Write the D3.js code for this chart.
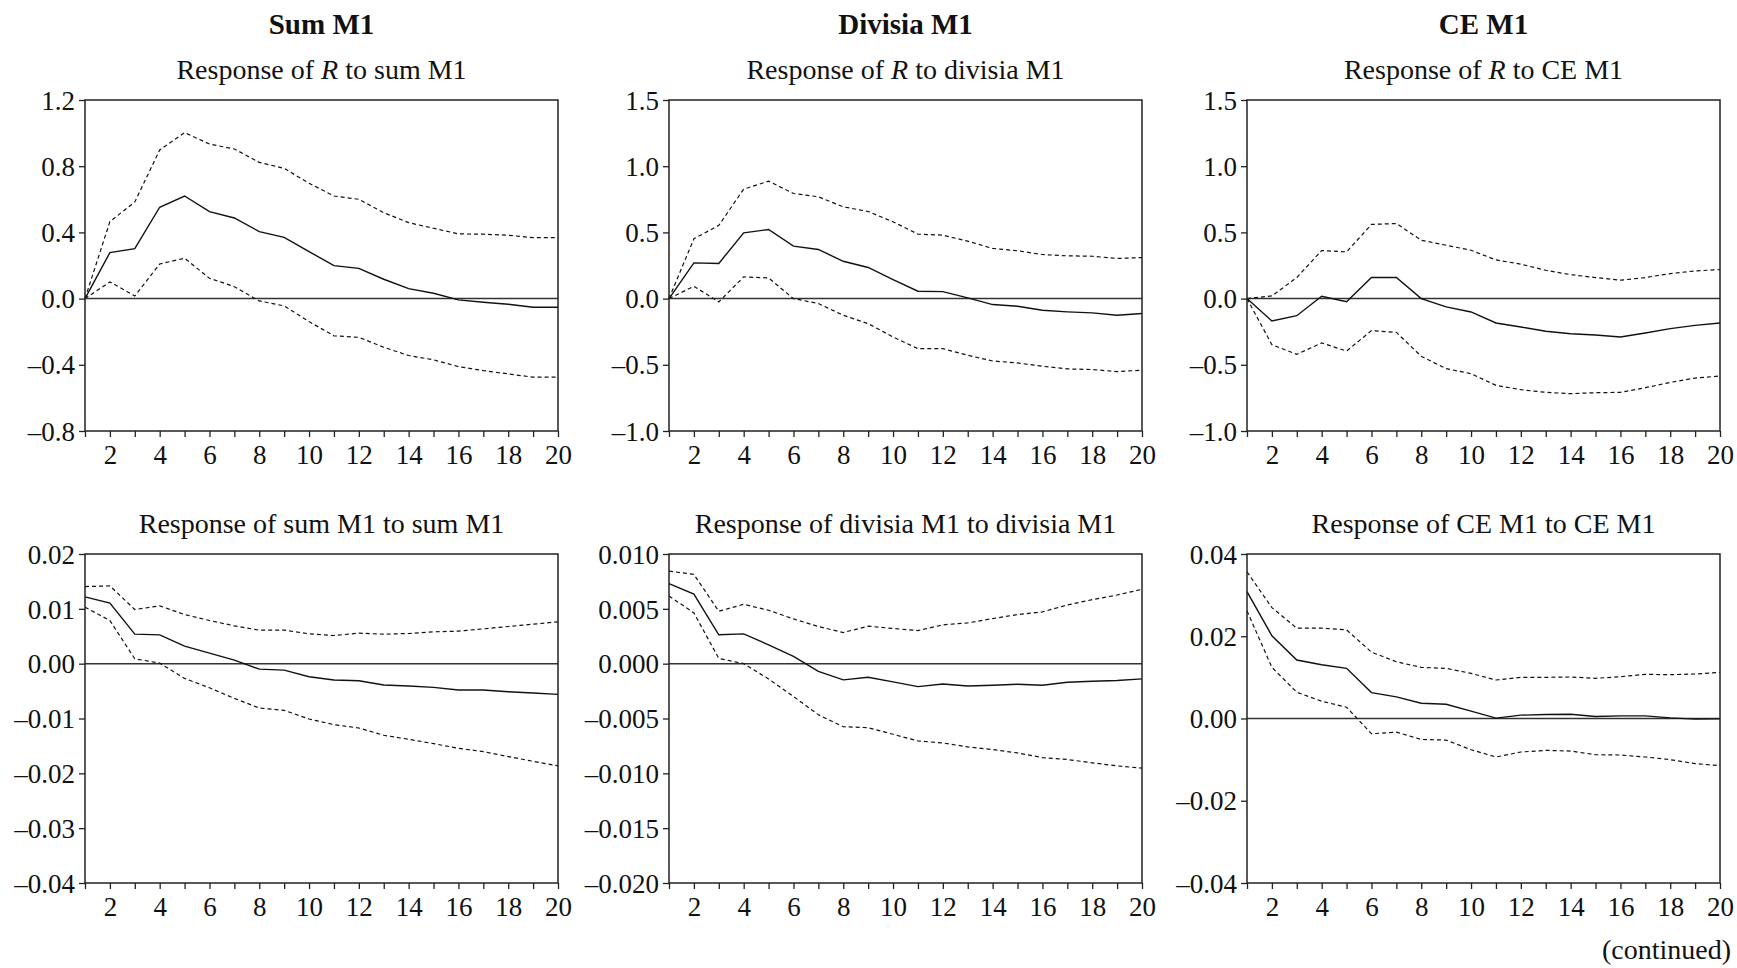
<!DOCTYPE html>
<html>
<head>
<meta charset="utf-8">
<script src="https://cdn.jsdelivr.net/npm/d3@7"></script>
<style>
  html, body { margin: 0; padding: 0; background: #fff; }
  svg { display: block; font-family: "Liberation Serif", "Times New Roman", serif; }
</style>
</head>
<body>
<svg id="chart" width="1737" height="968"></svg>
<script>
// ---------- data ----------
const periods = [1,2,3,4,5,6,7,8,9,10,11,12,13,14,15,16,17,18,19,20];
const xTickLabels = [2,4,6,8,10,12,14,16,18,20];
const columnHeaders = ["Sum M1", "Divisia M1", "CE M1"];

// Row 1: response of R
const rSumMid   = [0,0.278,0.302,0.552,0.620,0.525,0.487,0.405,0.370,0.284,0.199,0.183,0.117,0.060,0.032,-0.008,-0.022,-0.034,-0.052,-0.052];
const rSumUp    = [0,0.465,0.584,0.898,1.003,0.934,0.904,0.823,0.787,0.697,0.620,0.600,0.519,0.459,0.425,0.391,0.389,0.383,0.368,0.368];
const rSumLo    = [0,0.101,0.016,0.209,0.244,0.123,0.072,-0.014,-0.044,-0.139,-0.225,-0.234,-0.294,-0.344,-0.370,-0.411,-0.435,-0.455,-0.475,-0.475];

const rDivMid   = [0,0.270,0.265,0.497,0.522,0.396,0.371,0.282,0.235,0.144,0.056,0.053,0.005,-0.045,-0.058,-0.088,-0.100,-0.108,-0.126,-0.113];
const rDivUp    = [0,0.452,0.553,0.827,0.887,0.794,0.769,0.693,0.658,0.580,0.487,0.479,0.434,0.379,0.361,0.333,0.323,0.320,0.303,0.310];
const rDivLo    = [0,0.093,-0.025,0.164,0.156,0.000,-0.037,-0.126,-0.189,-0.290,-0.378,-0.378,-0.428,-0.471,-0.486,-0.511,-0.531,-0.536,-0.551,-0.541];

const rCeMid    = [0,-0.169,-0.129,0.018,-0.023,0.159,0.159,0.000,-0.063,-0.101,-0.184,-0.214,-0.247,-0.265,-0.275,-0.290,-0.260,-0.227,-0.202,-0.184];
const rCeUp     = [0,0.020,0.159,0.363,0.353,0.560,0.567,0.441,0.403,0.365,0.292,0.260,0.214,0.181,0.159,0.139,0.159,0.189,0.209,0.219];
const rCeLo     = [0,-0.348,-0.421,-0.335,-0.396,-0.242,-0.255,-0.436,-0.529,-0.567,-0.655,-0.688,-0.708,-0.718,-0.711,-0.708,-0.673,-0.633,-0.600,-0.585];

// Row 2: own responses
const sumMid    = [0.01218,0.01103,0.00538,0.00526,0.00320,0.00192,0.00065,-0.00099,-0.00117,-0.00239,-0.00299,-0.00311,-0.00390,-0.00408,-0.00433,-0.00481,-0.00481,-0.00512,-0.00536,-0.00560];
const sumUp     = [0.01406,0.01418,0.00987,0.01054,0.00896,0.00787,0.00690,0.00611,0.00611,0.00544,0.00514,0.00556,0.00538,0.00550,0.00581,0.00593,0.00635,0.00678,0.00720,0.00763];
const sumLo     = [0.01030,0.00787,0.00089,0.00010,-0.00269,-0.00439,-0.00633,-0.00809,-0.00851,-0.01009,-0.01112,-0.01173,-0.01306,-0.01379,-0.01458,-0.01543,-0.01604,-0.01695,-0.01780,-0.01865];

const divMid    = [0.00729,0.00635,0.00263,0.00272,0.00172,0.00067,-0.00070,-0.00148,-0.00124,-0.00166,-0.00209,-0.00185,-0.00203,-0.00197,-0.00188,-0.00197,-0.00169,-0.00160,-0.00154,-0.00139];
const divUp     = [0.00844,0.00814,0.00478,0.00541,0.00487,0.00408,0.00339,0.00284,0.00342,0.00321,0.00302,0.00354,0.00372,0.00411,0.00448,0.00472,0.00535,0.00584,0.00626,0.00678];
const divLo     = [0.00617,0.00463,0.00048,0.00000,-0.00139,-0.00299,-0.00466,-0.00575,-0.00584,-0.00644,-0.00705,-0.00723,-0.00759,-0.00783,-0.00814,-0.00856,-0.00874,-0.00904,-0.00932,-0.00953];

const ceMid     = [0.03084,0.02010,0.01421,0.01308,0.01219,0.00630,0.00525,0.00371,0.00347,0.00178,0.00010,0.00081,0.00097,0.00105,0.00048,0.00065,0.00065,0.00016,-0.00016,-0.00010];
const ceUp      = [0.03568,0.02696,0.02196,0.02196,0.02155,0.01614,0.01380,0.01243,0.01219,0.01098,0.00936,0.01001,0.01001,0.01009,0.00977,0.01017,0.01074,0.01066,0.01082,0.01122];
const ceLo      = [0.02616,0.01243,0.00638,0.00420,0.00274,-0.00371,-0.00331,-0.00509,-0.00525,-0.00759,-0.00936,-0.00815,-0.00775,-0.00791,-0.00880,-0.00888,-0.00936,-0.01001,-0.01098,-0.01146];

// y tick values
const yTicksR1 = [-0.8,-0.4,0.0,0.4,0.8,1.2];
const yTicksR2 = [-1.0,-0.5,0.0,0.5,1.0,1.5];
const yTicksSum = [-0.04,-0.03,-0.02,-0.01,0.00,0.01,0.02];
const yTicksDiv = [-0.020,-0.015,-0.010,-0.005,0.000,0.005,0.010];
const yTicksCe  = [-0.04,-0.02,0.00,0.02,0.04];

// titles: [before italic, italic, after]
const panels = [
  {row:0,col:0,title:["Response of ","R"," to sum M1"],mid:rSumMid,up:rSumUp,lo:rSumLo,domain:[-0.8,1.2],ticks:yTicksR1,dec:1},
  {row:0,col:1,title:["Response of ","R"," to divisia M1"],mid:rDivMid,up:rDivUp,lo:rDivLo,domain:[-1.0,1.5],ticks:yTicksR2,dec:1},
  {row:0,col:2,title:["Response of ","R"," to CE M1"],mid:rCeMid,up:rCeUp,lo:rCeLo,domain:[-1.0,1.5],ticks:yTicksR2,dec:1},
  {row:1,col:0,title:["Response of sum M1 to sum M1","",""],mid:sumMid,up:sumUp,lo:sumLo,domain:[-0.04,0.02],ticks:yTicksSum,dec:2},
  {row:1,col:1,title:["Response of divisia M1 to divisia M1","",""],mid:divMid,up:divUp,lo:divLo,domain:[-0.020,0.010],ticks:yTicksDiv,dec:3},
  {row:1,col:2,title:["Response of CE M1 to CE M1","",""],mid:ceMid,up:ceUp,lo:ceLo,domain:[-0.04,0.04],ticks:yTicksCe,dec:2}
];

// ---------- layout ----------
const colLeft = [85, 669, 1247];
const plotW = 473;
const rowTop = [100, 554];
const rowBottom = [431, 883];

const svg = d3.select("#chart");
const fmt = (dec) => (v) => {
  const s = Math.abs(v).toFixed(dec);
  return (v < -1e-12 ? "\u2013" : "") + s;
};

// column headers
columnHeaders.forEach((h, i) => {
  svg.append("text")
    .attr("x", colLeft[i] + plotW / 2)
    .attr("y", 34)
    .attr("text-anchor", "middle")
    .attr("font-size", 29)
    .attr("font-weight", "bold")
    .attr("fill", "#111")
    .text(h);
});

panels.forEach(p => {
  const x0 = colLeft[p.col], x1 = x0 + plotW;
  const y0 = rowTop[p.row], y1 = rowBottom[p.row];
  const x = d3.scaleLinear().domain([1, 20]).range([x0, x1]);
  const y = d3.scaleLinear().domain(p.domain).range([y1, y0]);
  const g = svg.append("g");

  // subtitle
  const t = g.append("text")
    .attr("x", (x0 + x1) / 2)
    .attr("y", y0 - 21)
    .attr("text-anchor", "middle")
    .attr("font-size", 28)
    .attr("fill", "#111");
  t.append("tspan").text(p.title[0]);
  if (p.title[1]) t.append("tspan").attr("font-style", "italic").text(p.title[1]);
  if (p.title[2]) t.append("tspan").text(p.title[2]);

  // x axis: minor ticks at every period, labels at even periods
  const xAxis = d3.axisBottom(x)
    .tickValues(periods)
    .tickSize(6)
    .tickFormat(d => xTickLabels.includes(d) ? String(d) : "");
  const gx = g.append("g").attr("transform", `translate(0,${y1})`).call(xAxis);
  gx.select(".domain").remove();
  gx.selectAll(".tick line").attr("stroke", "#222").attr("stroke-width", 1.3);
  gx.selectAll(".tick text")
    .attr("font-family", "Liberation Serif, serif")
    .attr("font-size", 27).attr("fill", "#111").attr("dy", "0").attr("y", 33);

  // y axis
  const yAxis = d3.axisLeft(y).tickValues(p.ticks).tickSize(6).tickFormat(fmt(p.dec));
  const gy = g.append("g").attr("transform", `translate(${x0},0)`).call(yAxis);
  gy.select(".domain").remove();
  gy.selectAll(".tick line").attr("stroke", "#222").attr("stroke-width", 1.3);
  gy.selectAll(".tick text")
    .attr("font-family", "Liberation Serif, serif")
    .attr("font-size", 27).attr("fill", "#111").attr("x", -10).attr("dy", "0.34em");

  // zero line
  g.append("line")
    .attr("x1", x0).attr("x2", x1).attr("y1", y(0)).attr("y2", y(0))
    .attr("stroke", "#333").attr("stroke-width", 1.5);

  // lines
  const line = d3.line().x((d, i) => x(periods[i])).y(d => y(d));
  g.append("path").datum(p.up).attr("d", line)
    .attr("fill", "none").attr("stroke", "#111").attr("stroke-width", 1.2).attr("stroke-dasharray", "4,3");
  g.append("path").datum(p.lo).attr("d", line)
    .attr("fill", "none").attr("stroke", "#111").attr("stroke-width", 1.2).attr("stroke-dasharray", "4,3");
  g.append("path").datum(p.mid).attr("d", line)
    .attr("fill", "none").attr("stroke", "#111").attr("stroke-width", 1.4);

  // frame
  g.append("rect")
    .attr("x", x0).attr("y", y0).attr("width", plotW).attr("height", y1 - y0)
    .attr("fill", "none").attr("stroke", "#222").attr("stroke-width", 1.5);
});

// (continued)
svg.append("text")
  .attr("x", 1731).attr("y", 959)
  .attr("text-anchor", "end")
  .attr("font-size", 28)
  .attr("fill", "#111")
  .text("(continued)");
</script>
</body>
</html>
